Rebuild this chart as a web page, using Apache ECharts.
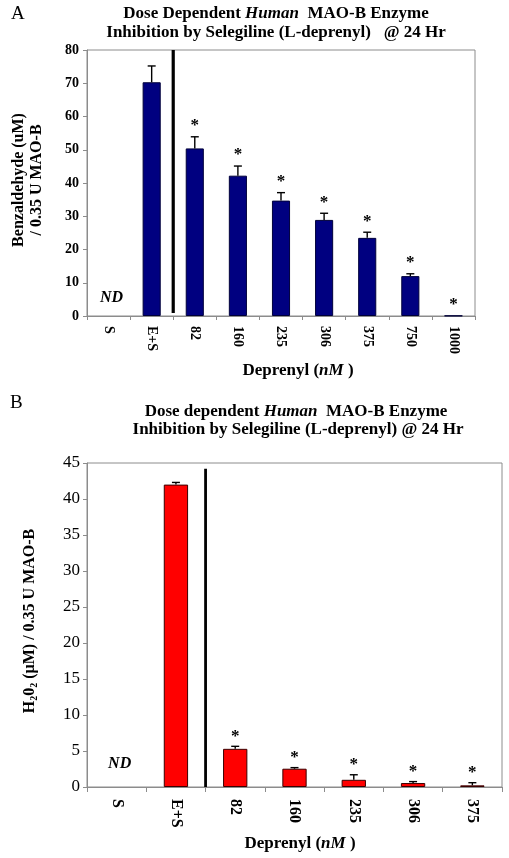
<!DOCTYPE html>
<html><head><meta charset="utf-8">
<script src="https://cdn.jsdelivr.net/npm/echarts@6/dist/echarts.min.js"></script>
<style>html,body{margin:0;padding:0;background:#fff}#c{width:509px;height:858px}</style>
</head><body><div id="c"></div>
<script>
// ---- Data: panel A (Benzaldehyde) ----
const catsA = ['S', 'E+S', '82', '160', '235', '306', '375', '750', '1000'];
const valsA = [null, 70.3, 50.4, 42.2, 34.7, 28.9, 23.5, 12.0, 0.1];
const errA  = [0, 4.9, 3.5, 2.9, 2.4, 2.0, 1.7, 0.7, 0];
const sigA  = [0, 0, 1, 1, 1, 1, 1, 1, 1];
const yTicksA = { min: 0, max: 80, interval: 10 };
// ---- Data: panel B (H2O2) ----
const catsB = ['S', 'E+S', '82', '160', '235', '306', '375'];
const valsB = [null, 42.0, 5.3, 2.54, 1.0, 0.55, 0.23];
const errB  = [0, 0.3, 0.35, 0.15, 0.7, 0.2, 0.37];
const sigB  = [0, 0, 1, 1, 1, 1, 1];
const yTicksB = { min: 0, max: 45, interval: 5 };

const SERIF = '"Liberation Serif", "Times New Roman", serif';
const gray = '#8c8c8c';

function errRender(capW, starOff) {
  return function (params, api) {
    const i = api.value(0), v = api.value(1) || 0, e = api.value(2), s = api.value(3);
    const p0 = api.coord([i, v]);
    const p1 = api.coord([i, v + e]);
    const ch = [];
    if (e > 0) {
      ch.push({ type: 'line', shape: { x1: p0[0], y1: p0[1], x2: p1[0], y2: p1[1] }, style: { stroke: '#000', lineWidth: 1.4 } });
      ch.push({ type: 'line', shape: { x1: p1[0] - capW / 2, y1: p1[1], x2: p1[0] + capW / 2, y2: p1[1] }, style: { stroke: '#000', lineWidth: 1.4 } });
    }
    if (s) {
      ch.push({ type: 'text', x: p1[0], y: p1[1] - starOff,
        style: { text: '*', fill: '#000', font: 'bold 17px ' + SERIF, align: 'center', verticalAlign: 'middle' } });
    }
    return { type: 'group', children: ch };
  };
}
function sepRender(topVal, botVal, lw) {
  return function (params, api) {
    const i = api.value(0);
    const c = api.coord([i, 0]);
    const bw = api.size([1, 0])[0];
    const x = c[0] + bw / 2;
    const yt = api.coord([i, topVal])[1];
    const yb = api.coord([i, botVal])[1];
    return { type: 'line', shape: { x1: x, y1: yt, x2: x, y2: yb }, style: { stroke: '#000', lineWidth: lw } };
  };
}
function ndRender(val) {
  return function (params, api) {
    const p = api.coord([api.value(0), val]);
    return { type: 'text', x: p[0] + 3, y: p[1],
      style: { text: 'ND', fill: '#000', font: 'italic bold 16px ' + SERIF, align: 'center', verticalAlign: 'middle' } };
  };
}

const chart = echarts.init(document.getElementById('c'), null, { renderer: 'canvas' });
const option = {
  animation: false,
  backgroundColor: '#fff',
  grid: [
    { left: 87, top: 50, width: 388, height: 266, show: true, borderColor: gray, borderWidth: 1, containLabel: false },
    { left: 87, top: 463, width: 415, height: 324, show: true, borderColor: gray, borderWidth: 1, containLabel: false }
  ],
  xAxis: [
    { type: 'category', gridIndex: 0, data: catsA,
      axisLine: { lineStyle: { color: gray } },
      axisTick: { show: true, alignWithLabel: false, length: 4, lineStyle: { color: gray } },
      axisLabel: { rotate: -90, margin: 10, color: '#000', fontFamily: SERIF, fontWeight: 'bold', fontSize: 14, interval: 0 } },
    { type: 'category', gridIndex: 1, data: catsB,
      axisLine: { lineStyle: { color: gray } },
      axisTick: { show: true, alignWithLabel: false, length: 5, lineStyle: { color: gray } },
      axisLabel: { rotate: -90, margin: 12, color: '#000', fontFamily: SERIF, fontWeight: 'bold', fontSize: 16, interval: 0 } }
  ],
  yAxis: [
    { type: 'value', gridIndex: 0, min: yTicksA.min, max: yTicksA.max, interval: yTicksA.interval,
      splitLine: { show: false },
      axisLine: { show: true, lineStyle: { color: gray } },
      axisTick: { show: true, length: 4, lineStyle: { color: gray } },
      axisLabel: { margin: 8, color: '#000', fontFamily: SERIF, fontWeight: 'bold', fontSize: 14 } },
    { type: 'value', gridIndex: 1, min: yTicksB.min, max: yTicksB.max, interval: yTicksB.interval,
      splitLine: { show: false },
      axisLine: { show: true, lineStyle: { color: gray } },
      axisTick: { show: true, length: 4, lineStyle: { color: gray } },
      axisLabel: { margin: 7, color: '#000', fontFamily: SERIF, fontSize: 17 } }
  ],
  series: [
    { type: 'bar', xAxisIndex: 0, yAxisIndex: 0, data: valsA, barWidth: '42%',
      itemStyle: { color: '#000080', borderColor: '#00003a', borderWidth: 1 } },
    { type: 'custom', xAxisIndex: 0, yAxisIndex: 0, z: 5, renderItem: errRender(8, 11),
      data: valsA.map((v, i) => [i, v, errA[i], sigA[i]]) },
    { type: 'custom', xAxisIndex: 0, yAxisIndex: 0, z: 6, renderItem: sepRender(80, 0.9, 3.2), data: [[1]] },
    { type: 'custom', xAxisIndex: 0, yAxisIndex: 0, z: 6, renderItem: ndRender(5.4), data: [[0]] },

    { type: 'bar', xAxisIndex: 1, yAxisIndex: 1, data: valsB, barWidth: '41%',
      itemStyle: { color: '#ff0000', borderColor: '#3a0000', borderWidth: 1 } },
    { type: 'custom', xAxisIndex: 1, yAxisIndex: 1, z: 5, renderItem: errRender(8, 10),
      data: valsB.map((v, i) => [i, v, errB[i], sigB[i]]) },
    { type: 'custom', xAxisIndex: 1, yAxisIndex: 1, z: 6, renderItem: sepRender(44.2, 0, 2.8), data: [[1]] },
    { type: 'custom', xAxisIndex: 1, yAxisIndex: 1, z: 6, renderItem: ndRender(3.2), data: [[0]] }
  ],
  graphic: [
    { type: 'text', x: 11, y: 14, style: { text: 'A', font: '19px ' + SERIF, fill: '#000', verticalAlign: 'middle' } },
    { type: 'text', x: 276, y: 14, style: { text: '{b|Dose Dependent }{i|Human}{b|  MAO-B Enzyme}', align: 'center', verticalAlign: 'middle',
        rich: { b: { font: 'bold 17px ' + SERIF, fill: '#000' }, i: { font: 'italic bold 17px ' + SERIF, fill: '#000' } } } },
    { type: 'text', x: 276, y: 33, style: { text: 'Inhibition by Selegiline (L-deprenyl)   @ 24 Hr', font: 'bold 17px ' + SERIF, fill: '#000', align: 'center', verticalAlign: 'middle' } },
    { type: 'text', x: 19, y: 180, rotation: Math.PI / 2, style: { text: 'Benzaldehyde (uM)', font: 'bold 16px ' + SERIF, fill: '#000', align: 'center', verticalAlign: 'middle' } },
    { type: 'text', x: 37, y: 180, rotation: Math.PI / 2, style: { text: '/ 0.35 U MAO-B', font: 'bold 16px ' + SERIF, fill: '#000', align: 'center', verticalAlign: 'middle' } },
    { type: 'text', x: 298, y: 371, style: { text: '{b|Deprenyl (}{i|nM}{b| )}', align: 'center', verticalAlign: 'middle',
        rich: { b: { font: 'bold 17px ' + SERIF, fill: '#000' }, i: { font: 'italic bold 17px ' + SERIF, fill: '#000' } } } },

    { type: 'text', x: 10, y: 403, style: { text: 'B', font: '19px ' + SERIF, fill: '#000', verticalAlign: 'middle' } },
    { type: 'text', x: 296, y: 412, style: { text: '{b|Dose dependent }{i|Human}{b|  MAO-B Enzyme}', align: 'center', verticalAlign: 'middle',
        rich: { b: { font: 'bold 17px ' + SERIF, fill: '#000' }, i: { font: 'italic bold 17px ' + SERIF, fill: '#000' } } } },
    { type: 'text', x: 298, y: 430, style: { text: 'Inhibition by Selegiline (L-deprenyl) @ 24 Hr', font: 'bold 17px ' + SERIF, fill: '#000', align: 'center', verticalAlign: 'middle' } },
    { type: 'text', x: 30, y: 621, rotation: Math.PI / 2, style: { text: '{b|H}{s|2}{b|0}{s|2}{b| (µM) / 0.35 U MAO-B}', align: 'center', verticalAlign: 'middle',
        rich: { b: { font: 'bold 16px ' + SERIF, fill: '#000' }, s: { font: 'bold 10px ' + SERIF, fill: '#000', padding: [8, 0, 0, 0] } } } },
    { type: 'text', x: 300, y: 844, style: { text: '{b|Deprenyl (}{i|nM}{b| )}', align: 'center', verticalAlign: 'middle',
        rich: { b: { font: 'bold 17px ' + SERIF, fill: '#000' }, i: { font: 'italic bold 17px ' + SERIF, fill: '#000' } } } }
  ]
};
chart.setOption(option);
</script>
</body></html>
